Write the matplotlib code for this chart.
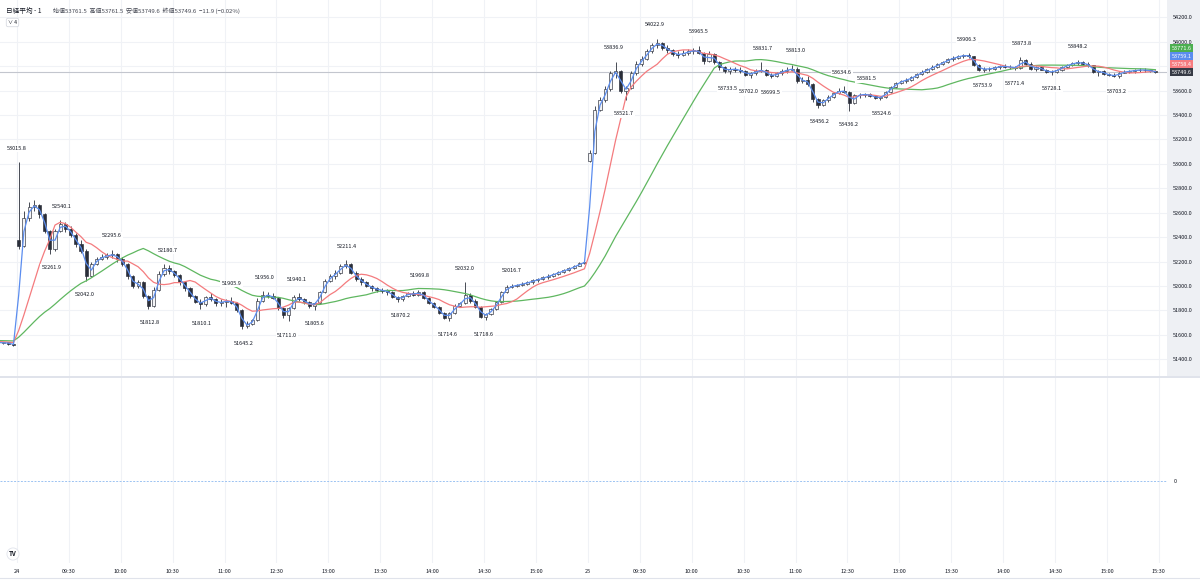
import numpy as np
import pandas as pd
import matplotlib
matplotlib.use("Agg")
import matplotlib.pyplot as plt
from matplotlib.patches import Rectangle
from matplotlib.lines import Line2D

plt.rcParams["font.family"] = ["Noto Sans CJK JP", "DejaVu Sans"]
plt.rcParams["axes.unicode_minus"] = False

# ---- データ（3分足に読み替え、値はチャートから目視） ----
# 前日の終盤（移動平均の助走用、左端の数本だけ見える）
pre_open = [51565, 51560, 51555, 51565, 51570, 51560, 51550, 51545, 51555, 51560, 51565, 51555, 51548,
            51552, 51560, 51558, 51550, 51545, 51540, 51548, 51552, 51545, 51530, 51540, 51525]
pre_high = [51572, 51566, 51570, 51578, 51574, 51565, 51556, 51560, 51566, 51570, 51570, 51560, 51558,
            51566, 51564, 51562, 51555, 51550, 51552, 51558, 51556, 51548, 51545, 51544, 51530]
pre_low = [51555, 51548, 51550, 51558, 51552, 51542, 51538, 51540, 51550, 51555, 51548, 51540, 51544,
           51548, 51550, 51542, 51538, 51532, 51535, 51542, 51538, 51506, 51525, 51518, 51512]
pre_close = [51560, 51555, 51565, 51570, 51560, 51550, 51545, 51555, 51560, 51565, 51555, 51548, 51552,
             51560, 51558, 51550, 51545, 51540, 51548, 51552, 51545, 51530, 51540, 51525, 51520]

# 24日
d24_open = [52380, 52330, 52560, 52650, 52660, 52590, 52450, 52300, 52450, 52510,
            52470, 52420, 52340, 52290, 52080, 52180, 52220, 52240, 52250, 52260,
            52220, 52180, 52080, 52000, 52030, 51920, 51840, 51970, 52100, 52150,
            52120, 52090, 52030, 51980, 51920, 51870, 51850, 51910, 51890, 51860,
            51870, 51880, 51860, 51800, 51670, 51690, 51720, 51880, 51930, 51920,
            51900, 51820, 51760, 51820, 51910, 51890, 51870, 51840, 51860, 51950,
            52040, 52080, 52110, 52160, 52180, 52110, 52060, 52030, 52000, 51980,
            51970, 51960, 51950, 51910, 51890, 51920, 51940, 51930, 51950, 51900,
            51860, 51830, 51780, 51740, 51780, 51840, 51860, 51930, 51880, 51830,
            51750, 51770, 51810, 51870, 51950, 51990, 52000, 52010, 52020, 52030,
            52045, 52055, 52070, 52085, 52100, 52115, 52130, 52145, 52165, 52185]
d24_high = [53016, 52610, 52690, 52705, 52670, 52600, 52460, 52470, 52540, 52520,
            52490, 52430, 52380, 52300, 52200, 52240, 52260, 52270, 52296, 52270,
            52240, 52190, 52090, 52050, 52040, 51930, 51990, 52120, 52181, 52170,
            52130, 52100, 52040, 51990, 51930, 51890, 51920, 51940, 51900, 51890,
            51895, 51906, 51870, 51810, 51710, 51730, 51900, 51956, 51950, 51940,
            51910, 51830, 51830, 51930, 51940, 51900, 51880, 51870, 51960, 52060,
            52100, 52130, 52180, 52211, 52190, 52120, 52070, 52040, 52010, 51995,
            51985, 51975, 51960, 51920, 51930, 51950, 51955, 51970, 51960, 51910,
            51870, 51840, 51790, 51790, 51850, 51870, 52032, 51940, 51890, 51840,
            51780, 51820, 51880, 51960, 52010, 52017, 52020, 52030, 52040, 52055,
            52065, 52080, 52095, 52110, 52125, 52140, 52155, 52175, 52195, 52210]
d24_low = [52300, 52320, 52530, 52610, 52560, 52430, 52262, 52290, 52440, 52440,
           52400, 52320, 52270, 52042, 52070, 52170, 52210, 52220, 52230, 52200,
           52160, 52060, 51980, 51980, 51900, 51813, 51830, 51960, 52080, 52100,
           52070, 52010, 51960, 51900, 51860, 51810, 51840, 51880, 51840, 51840,
           51830, 51850, 51790, 51645, 51660, 51680, 51710, 51870, 51900, 51890,
           51800, 51740, 51711, 51810, 51880, 51850, 51820, 51806, 51850, 51940,
           52030, 52060, 52100, 52150, 52100, 52040, 52010, 51990, 51960, 51950,
           51940, 51930, 51900, 51870, 51880, 51910, 51915, 51920, 51890, 51850,
           51820, 51770, 51730, 51715, 51770, 51830, 51850, 51860, 51820, 51740,
           51719, 51760, 51800, 51860, 51940, 51980, 51990, 52000, 52010, 52020,
           52035, 52045, 52060, 52075, 52090, 52105, 52120, 52140, 52160, 52180]
d24_close = [52330, 52560, 52650, 52660, 52590, 52450, 52300, 52450, 52510, 52470,
             52420, 52340, 52290, 52080, 52180, 52220, 52240, 52250, 52260, 52220,
             52180, 52080, 52000, 52030, 51920, 51840, 51970, 52100, 52150, 52120,
             52090, 52030, 51980, 51920, 51870, 51850, 51910, 51890, 51860, 51870,
             51880, 51860, 51800, 51670, 51690, 51720, 51880, 51930, 51920, 51900,
             51820, 51760, 51820, 51910, 51890, 51870, 51840, 51860, 51950, 52040,
             52080, 52110, 52160, 52180, 52110, 52060, 52030, 52000, 51980, 51970,
             51960, 51950, 51910, 51890, 51920, 51940, 51930, 51950, 51900, 51860,
             51830, 51780, 51740, 51780, 51840, 51860, 51930, 51880, 51830, 51750,
             51770, 51810, 51870, 51950, 51990, 52000, 52010, 52020, 52030, 52045,
             52055, 52070, 52085, 52100, 52115, 52130, 52145, 52165, 52185, 52200]

# 25日
d25_open = [53020, 53090, 53440, 53520, 53610, 53740, 53760, 53600, 53620, 53740,
            53820, 53860, 53920, 53970, 53990, 53950, 53930, 53900, 53890, 53910,
            53920, 53930, 53910, 53840, 53900, 53830, 53790, 53760, 53780, 53770,
            53760, 53730, 53740, 53760, 53770, 53730, 53720, 53740, 53760, 53770,
            53780, 53680, 53690, 53650, 53530, 53480, 53520, 53550, 53580, 53600,
            53590, 53500, 53560, 53565, 53570, 53555, 53540, 53545, 53590, 53630,
            53660, 53680, 53690, 53710, 53735, 53755, 53775, 53795, 53815, 53835,
            53855, 53870, 53880, 53890, 53880, 53810, 53770, 53780, 53775, 53790,
            53800, 53795, 53790, 53785, 53850, 53820, 53780, 53790, 53770, 53750,
            53755, 53770, 53795, 53810, 53825, 53830, 53820, 53805, 53750, 53760,
            53735, 53725, 53720, 53745, 53755, 53760, 53765, 53770, 53765, 53760]
d25_high = [53110, 53470, 53550, 53640, 53760, 53837, 53770, 53640, 53760, 53840,
            53880, 53940, 53990, 54023, 54000, 53970, 53940, 53920, 53930, 53940,
            53950, 53966, 53915, 53920, 53910, 53840, 53800, 53790, 53795, 53790,
            53770, 53750, 53780, 53832, 53780, 53745, 53750, 53780, 53790, 53813,
            53790, 53710, 53720, 53660, 53540, 53530, 53560, 53590, 53620, 53635,
            53600, 53570, 53580, 53582, 53580, 53565, 53555, 53600, 53640, 53670,
            53690, 53700, 53720, 53745, 53765, 53785, 53805, 53825, 53845, 53865,
            53880, 53890, 53900, 53906, 53885, 53820, 53790, 53795, 53800, 53810,
            53815, 53810, 53800, 53874, 53860, 53830, 53800, 53800, 53780, 53765,
            53780, 53800, 53820, 53835, 53848, 53840, 53830, 53810, 53770, 53765,
            53745, 53740, 53750, 53765, 53770, 53775, 53785, 53785, 53775, 53770]
d25_low = [53015, 53080, 53430, 53510, 53600, 53700, 53580, 53522, 53610, 53730,
           53800, 53850, 53910, 53950, 53930, 53910, 53880, 53870, 53880, 53890,
           53900, 53900, 53820, 53830, 53820, 53770, 53745, 53734, 53750, 53745,
           53720, 53702, 53730, 53750, 53720, 53700, 53710, 53730, 53740, 53760,
           53660, 53660, 53640, 53510, 53456, 53470, 53510, 53540, 53570, 53580,
           53436, 53490, 53540, 53550, 53545, 53530, 53525, 53540, 53580, 53620,
           53650, 53665, 53680, 53700, 53725, 53745, 53765, 53785, 53805, 53825,
           53845, 53860, 53870, 53870, 53800, 53760, 53754, 53760, 53765, 53780,
           53785, 53780, 53771, 53780, 53810, 53770, 53760, 53765, 53740, 53728,
           53745, 53760, 53785, 53800, 53810, 53805, 53795, 53740, 53720, 53725,
           53715, 53710, 53703, 53740, 53745, 53745, 53750, 53755, 53750, 53745]
d25_close = [53090, 53440, 53520, 53610, 53740, 53760, 53600, 53620, 53740, 53820,
             53860, 53920, 53970, 53990, 53950, 53930, 53900, 53890, 53910, 53920,
             53930, 53910, 53840, 53900, 53830, 53790, 53760, 53780, 53770, 53760,
             53730, 53740, 53760, 53770, 53730, 53720, 53740, 53760, 53770, 53780,
             53680, 53690, 53650, 53530, 53480, 53520, 53550, 53580, 53600, 53590,
             53500, 53560, 53565, 53570, 53555, 53540, 53545, 53590, 53630, 53660,
             53680, 53690, 53710, 53735, 53755, 53775, 53795, 53815, 53835, 53855,
             53870, 53880, 53890, 53880, 53810, 53770, 53780, 53775, 53790, 53800,
             53795, 53790, 53785, 53850, 53820, 53780, 53790, 53770, 53750, 53755,
             53770, 53795, 53810, 53825, 53830, 53820, 53805, 53750, 53760, 53735,
             53725, 53720, 53745, 53755, 53760, 53765, 53770, 53765, 53760, 53749.6]

# ピボット高値・安値ラベル（分インデックス, 値）
pivot_high_min = [0, 26, 55, 87, 124, 143, 162, 191, 233, 259, 286,
                  345, 369, 394, 431, 450, 477, 491, 549, 581, 613]
pivot_high_val = [53015.8, 52540.1, 52295.6, 52180.7, 51905.9, 51956.0, 51940.1, 52211.4, 51969.8, 52032.0, 52016.7,
                  53836.9, 54022.9, 53965.5, 53831.7, 53813.0, 53634.6, 53581.5, 53906.3, 53873.8, 53848.2]
pivot_low_min = [-11, 20, 39, 77, 107, 131, 156, 172, 222, 249, 270,
                 351, 411, 423, 436, 464, 481, 500, 558, 577, 598, 636]
pivot_low_val = [51506.2, 52261.9, 52042.0, 51812.8, 51810.1, 51645.2, 51711.0, 51805.6, 51870.2, 51714.6, 51718.6,
                 53521.7, 53733.5, 53702.0, 53699.5, 53456.2, 53436.2, 53524.6, 53753.9, 53771.4, 53728.1, 53703.2]

tick_min = [0, 30, 60, 90, 120, 150, 180, 210, 240, 270, 300,
            330, 360, 390, 420, 450, 480, 510, 540, 570, 600, 630, 660]
tick_lab = ["24", "09:30", "10:00", "10:30", "11:00", "12:30", "13:00", "13:30", "14:00", "14:30", "15:00",
            "25", "09:30", "10:00", "10:30", "11:00", "12:30", "13:00", "13:30", "14:00", "14:30", "15:00", "15:30"]

# 右軸のラベル（上から 緑・青・赤・終値）
tag_vals = [53771.6, 53759.1, 53758.4, 53749.6]
tag_cols = ["#4caf50", "#5b8def", "#f77c80", "#363a45"]

# ---- 配列化 ----
opens = np.array(pre_open + d24_open + d25_open, float)
highs = np.array(pre_high + d24_high + d25_high, float)
lows = np.array(pre_low + d24_low + d25_low, float)
closes = np.array(pre_close + d24_close + d25_close, float)
assert len(opens) == len(highs) == len(lows) == len(closes)
n_pre = len(pre_close)
minutes = (np.arange(len(closes)) - n_pre) * 3 + 1

s = pd.Series(closes)
ma_fast = s.rolling(2, min_periods=1).mean()
ma_mid = s.rolling(8, min_periods=1).mean()
ma_slow = s.rolling(25, min_periods=1).mean()

# ---- 図 ----
W, H = 1200, 581
fig = plt.figure(figsize=(W / 100, H / 100), dpi=100)
fig.patch.set_facecolor("white")

px = lambda v: v / W
py = lambda v: 1 - v / H

ax = fig.add_axes([0, py(377), px(1167), py(0) - py(377)])
ax2 = fig.add_axes([0, py(563), px(1167), py(378) - py(563)])

grid_c = "#f0f2f6"
dark = "#2a2e39"

ax.set_xlim(-9.8, 664.7)
ax.set_ylim(51255, 54341)
for t in tick_min:
    ax.axvline(t, color=grid_c, lw=0.8, zorder=0)
    ax2.axvline(t, color=grid_c, lw=0.8, zorder=0)
yt = np.arange(51400, 54201, 200)
for v in yt:
    ax.axhline(v, color=grid_c, lw=0.8, zorder=0)

# 終値ライン
ax.axhline(closes[-1], color="#c3c6ce", lw=0.8, zorder=1)

# ローソク足
up = closes >= opens
lo_b = np.minimum(opens, closes)
h_b = np.maximum(np.abs(closes - opens), 4)
ax.vlines(minutes, lows, highs, color=dark, lw=0.6, zorder=2)
ax.bar(minutes[up], h_b[up], bottom=lo_b[up], width=1.8, color="#f4f5f7",
       edgecolor=dark, linewidth=0.45, zorder=2.5)
ax.bar(minutes[~up], h_b[~up], bottom=lo_b[~up], width=1.8, color=dark,
       edgecolor=dark, linewidth=0.45, zorder=2.5)

# 移動平均
ax.plot(minutes, ma_slow, color="#5fb760", lw=0.9, zorder=3)
ax.plot(minutes, ma_mid, color="#f47b7e", lw=0.9, zorder=3)
ax.plot(minutes, ma_fast, color="#5b8def", lw=0.9, zorder=3.2)

# ピボットラベル
box = dict(boxstyle="square,pad=0.2", fc="white", ec="none")
for m, v in zip(pivot_high_min, pivot_high_val):
    ax.annotate(f"{v:.1f}", xy=(m, v), xytext=(0, 10), textcoords="offset points",
                ha="center", va="center", fontsize=4, color="#131722", bbox=box,
                zorder=5, clip_on=True)
for m, v in zip(pivot_low_min, pivot_low_val):
    ax.annotate(f"{v:.1f}", xy=(m, v), xytext=(0, -10), textcoords="offset points",
                ha="center", va="center", fontsize=4, color="#131722", bbox=box,
                zorder=5, clip_on=True)

ax.yaxis.tick_right()
ax.set_yticks(yt)
ax.set_yticklabels([f"{v:.1f}" for v in yt])
ax.tick_params(axis="y", length=0, pad=4, labelsize=4, labelcolor="#131722")
ax.set_xticks([])
for sp in ax.spines.values():
    sp.set_visible(False)

# 右軸の値タグ
for k, (v, c) in enumerate(zip(tag_vals, tag_cols)):
    off = (len(tag_vals) - 1 - k) * 8 * 0.72
    ax.annotate(f"{v:.1f}", xy=(1.0, closes[-1]), xycoords=("axes fraction", "data"),
                xytext=(3.2, off), textcoords="offset points", ha="left", va="center",
                fontsize=4, color="white", annotation_clip=False, zorder=10,
                bbox=dict(boxstyle="square,pad=0.3", fc=c, ec="none"))

# 下のペイン
ax2.set_xlim(ax.get_xlim())
ax2.set_ylim(-0.795, 1)
ax2.axhline(0, color="#9cc3f2", lw=0.7, ls=(0, (2, 1.5)))
ax2.yaxis.tick_right()
ax2.set_yticks([0])
ax2.set_yticklabels(["0"])
ax2.tick_params(axis="y", length=0, pad=5, labelsize=4, labelcolor="#131722")
ax2.set_xticks(tick_min)
ax2.set_xticklabels(tick_lab)
ax2.tick_params(axis="x", length=0, pad=4.5, labelsize=4, labelcolor="#131722")
for sp in ax2.spines.values():
    sp.set_visible(False)

# 価格軸の背景・区切り線
fig.patches.append(Rectangle((px(1167), py(376)), 1 - px(1167), py(0) - py(376),
                             transform=fig.transFigure, fc="#eef0f4", ec="none", zorder=-1))
fig.add_artist(Line2D([0, 1], [py(377), py(377)], color="#e0e3eb", lw=1.4))
fig.add_artist(Line2D([0, 1], [py(578), py(578)], color="#e0e3eb", lw=0.8))

# ヘッダー
fig.text(px(6), py(11), "日経平均 - 1", fontsize=4.8, color="#131722", va="center")
fig.text(px(53), py(11), "始値53761.5  高値53761.5  安値53749.6  終値53749.6  −11.9 (−0.02%)",
         fontsize=4.3, color="#434651", va="center")
fig.text(px(8), py(22.5), "∨ 4", fontsize=3.6, color="#131722", va="center",
         bbox=dict(boxstyle="round,pad=0.35", fc="white", ec="#d1d4dc", lw=0.5))
fig.text(px(13), py(554), "TV", fontsize=4.5, weight="bold", ha="center", va="center",
         color="#131722",
         bbox=dict(boxstyle="circle,pad=0.35", fc="white", ec="#e0e3eb", lw=0.6))

fig.savefig("out.png", dpi=100)
